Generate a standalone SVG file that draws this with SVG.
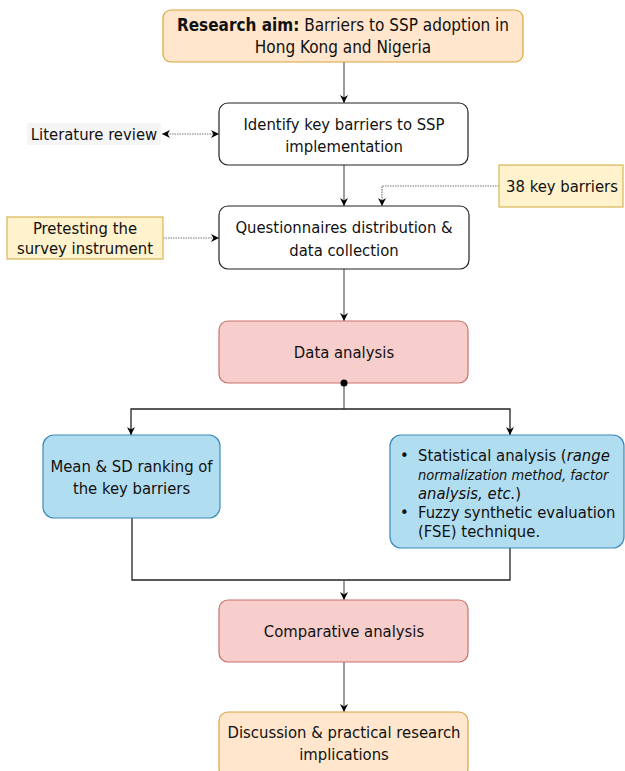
<svg xmlns="http://www.w3.org/2000/svg" width="625" height="771" viewBox="0 0 625 771">
<style>
text{font-family:"DejaVu Sans Condensed","DejaVu Sans",Verdana,sans-serif;font-size:16.5px;fill:#111;text-anchor:middle}
.l{text-anchor:start}
.t{font-size:17px}
.s{font-size:14.5px;font-style:italic}
.w{fill:#fff;stroke:#222;stroke-width:1.2}
.peach{fill:#ffe6cc;stroke:#d9a43a;stroke-width:1.2}
.yel{fill:#fff2cc;stroke:#d6b656;stroke-width:1.2}
.red{fill:#f8cecc;stroke:#c8706b;stroke-width:1.2}
.blue{fill:#b1ddf0;stroke:#3d8ab8;stroke-width:1.2}
.gray{fill:#f5f5f5}
.c{fill:none;stroke:#666;stroke-width:1.3}
.k{fill:none;stroke:#222;stroke-width:1.3}
.d{fill:none;stroke:#777;stroke-width:1.2;stroke-dasharray:1.5 1}
</style>
<defs>
<marker id="a" viewBox="0 0 10 10" refX="10" refY="5" markerWidth="8" markerHeight="8" markerUnits="userSpaceOnUse" orient="auto-start-reverse">
<path d="M0,0 L10,5 L0,10 L3,5 z" fill="#000"/>
</marker>
</defs>
<g id="connectors">
<path class="c" d="M344,62 V103" marker-end="url(#a)"/>
<path class="d" d="M162,134 H219" marker-start="url(#a)" marker-end="url(#a)"/>
<path class="c" d="M344,165 V206" marker-end="url(#a)"/>
<path class="d" d="M499,186 H382 V206" marker-end="url(#a)"/>
<path class="d" d="M163,238 H219" marker-end="url(#a)"/>
<path class="c" d="M344,269 V321" marker-end="url(#a)"/>
<path class="c" d="M344,383 V409"/>
<path class="k" d="M131,435 V409 H510 V435" marker-start="url(#a)" marker-end="url(#a)"/>
<path class="k" d="M132,518 V580 H510 V548"/>
<path class="c" d="M344,580 V600" marker-end="url(#a)"/>
<path class="c" d="M344,662 V712" marker-end="url(#a)"/>
</g>
<g id="aim">
<rect class="peach" x="163" y="10" width="360" height="52" rx="8"/>
<text class="t" x="343" y="31"><tspan font-weight="bold">Research aim:</tspan> Barriers to SSP adoption in</text>
<text class="t" x="343" y="53">Hong Kong and Nigeria</text>
</g>
<g id="identify">
<rect class="w" x="219" y="103" width="249" height="62" rx="9"/>
<text x="344" y="130">Identify key barriers to SSP</text>
<text x="344" y="152">implementation</text>
</g>
<g id="literature">
<rect class="gray" x="27" y="123" width="134" height="22"/>
<text x="94" y="140">Literature review</text>
</g>
<g id="barriers38">
<rect class="yel" x="499" y="165" width="124" height="42"/>
<text x="562" y="192">38 key barriers</text>
</g>
<g id="questionnaires">
<rect class="w" x="219" y="206" width="250" height="63" rx="9"/>
<text x="344" y="233">Questionnaires distribution &amp;</text>
<text x="344" y="256">data collection</text>
</g>
<g id="pretesting">
<rect class="yel" x="7" y="217" width="156" height="42"/>
<text x="85" y="234">Pretesting the</text>
<text x="85" y="254">survey instrument</text>
</g>
<g id="dataanalysis">
<rect class="red" x="219" y="321" width="249" height="62" rx="9"/>
<text x="344" y="358">Data analysis</text>
</g>
<circle cx="344" cy="383" r="3.5" fill="#000"/>
<g id="meansd">
<rect class="blue" x="43" y="435" width="177" height="83" rx="11"/>
<text x="131.5" y="472">Mean &amp; SD ranking of</text>
<text x="131.5" y="494">the key barriers</text>
</g>
<g id="statistical">
<rect class="blue" x="390" y="435" width="234" height="113" rx="11"/>
<text class="l" x="400" y="461">•</text>
<text class="l" x="418" y="461">Statistical analysis (<tspan font-style="italic">range</tspan></text>
<text class="l s" x="418" y="480">normalization method, factor</text>
<text class="l" x="418" y="499"><tspan font-style="italic">analysis, etc.</tspan>)</text>
<text class="l" x="400" y="518">•</text>
<text class="l" x="418" y="518">Fuzzy synthetic evaluation</text>
<text class="l" x="418" y="537">(FSE) technique.</text>
</g>
<g id="comparative">
<rect class="red" x="219" y="600" width="249" height="62" rx="9"/>
<text x="344" y="637">Comparative analysis</text>
</g>
<g id="discussion">
<rect class="peach" x="219" y="712" width="249" height="66" rx="9"/>
<text x="344" y="738">Discussion &amp; practical research</text>
<text x="344" y="760">implications</text>
</g>
</svg>
